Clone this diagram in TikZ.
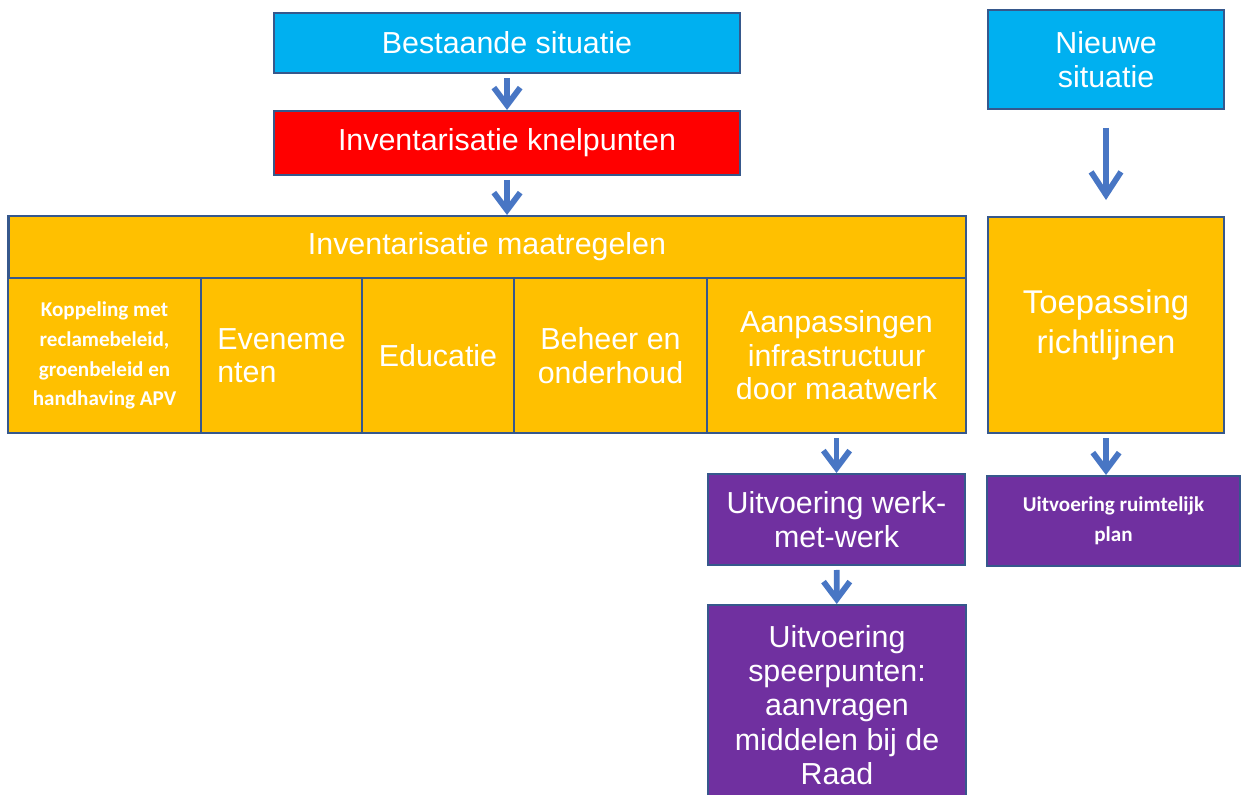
\documentclass[tikz,border=0pt]{standalone}
\usepackage{fontspec}
\setmainfont{Liberation Sans}
\newfontfamily\calibri{Carlito}
\usetikzlibrary{arrows.meta}
\definecolor{skyfill}{RGB}{0,176,240}
\definecolor{redfill}{RGB}{255,0,0}
\definecolor{amber}{RGB}{255,192,0}
\definecolor{plum}{RGB}{112,48,160}
\definecolor{boxedge}{RGB}{54,88,140}
\definecolor{arrowblue}{RGB}{72,118,196}

\tikzset{
  blok/.style={draw=boxedge,line width=1.6pt,text=white,inner sep=0pt,outer sep=0pt,
    align=center,font=\fontsize{17.3}{19}\selectfont},
  klein/.style={font=\calibri\bfseries\fontsize{12}{17}\selectfont},
  pijl/.style={arrowblue,line width=3.3pt,-{Straight Barb[length=10pt,width=15pt]},
    shorten <=0.1cm,shorten >=0.02cm},
}

\begin{document}
\begin{tikzpicture}[x=0.02cm,y=-0.02cm]
\useasboundingbox (0,0) rectangle (1243,794);
% left column
\node[blok,fill=skyfill,minimum width=9.32cm,minimum height=1.2cm] (bestaande) at (507,43) {Bestaande situatie};
\node[blok,fill=redfill,minimum width=9.32cm,minimum height=1.28cm] (knelpunten) at (507,143) {Inventarisatie knelpunten};
\node[blok,fill=amber,minimum width=19.16cm,minimum height=1.24cm] (maatregelen) at (487,247) {Inventarisatie maatregelen};
\node[blok,klein,fill=amber,minimum width=3.86cm,minimum height=3.1cm] (koppeling) at (104.5,355.5) {Koppeling met\\reclamebeleid,\\groenbeleid en\\handhaving APV};
\node[blok,fill=amber,minimum width=3.22cm,minimum height=3.1cm,align=left] (evenementen) at (281.5,355.5) {Eveneme\\nten};
\node[blok,fill=amber,minimum width=3.04cm,minimum height=3.1cm] (educatie) at (438,355.5) {Educatie};
\node[blok,fill=amber,minimum width=3.86cm,minimum height=3.1cm] (beheer) at (610.5,355.5) {Beheer en\\onderhoud};
\node[blok,fill=amber,minimum width=5.18cm,minimum height=3.1cm] (aanpassingen) at (836.5,355.5) {Aanpassingen\\infrastructuur\\door maatwerk};
\node[blok,fill=plum,minimum width=5.14cm,minimum height=1.82cm] (werk) at (836.5,519.5) {Uitvoering werk-\\met-werk};
\node[blok,fill=plum,minimum width=5.16cm,minimum height=4.0cm,font=\fontsize{17.3}{19.6}\selectfont] (speerpunten) at (837,705) {Uitvoering\\speerpunten:\\aanvragen\\middelen bij de\\Raad};
% right column
\node[blok,fill=skyfill,minimum width=4.72cm,minimum height=1.98cm] (nieuwe) at (1106,59.5) {Nieuwe\\situatie};
\node[blok,fill=amber,minimum width=4.72cm,minimum height=4.32cm,font=\fontsize{18.7}{22.7}\selectfont] (toepassing) at (1106,325) {Toepassing\\richtlijnen};
\node[blok,klein,fill=plum,minimum width=5.06cm,minimum height=1.8cm] (plan) at (1113.5,521) {Uitvoering ruimtelijk\\plan};

\draw[pijl] (bestaande) -- (knelpunten);
\draw[pijl] (knelpunten.south) -- (knelpunten.south |- maatregelen.north);
\draw[pijl] (aanpassingen) -- (werk);
\draw[pijl] (werk) -- (speerpunten);
\draw[pijl] (toepassing.south) -- (toepassing.south |- plan.north);
\draw[pijl,-{Straight Barb[length=13pt,width=17pt]},shorten <=0.38cm,shorten >=0.34cm] (nieuwe) -- (toepassing);
\end{tikzpicture}
\end{document}
